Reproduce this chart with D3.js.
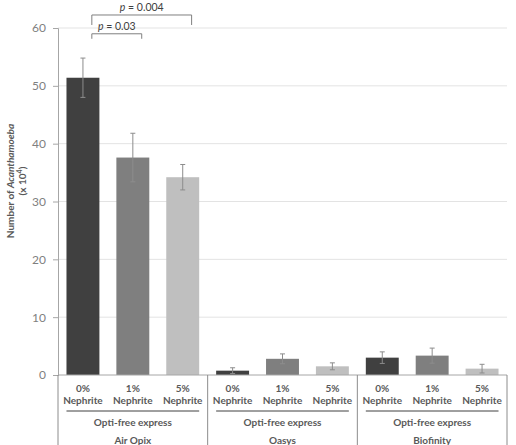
<!DOCTYPE html>
<html>
<head>
<meta charset="utf-8">
<script src="https://cdn.jsdelivr.net/npm/d3@7"></script>
<style>
  body { margin: 0; background: #fff; }
  text { font-family: Lato, "Open Sans", sans-serif; }
</style>
</head>
<body>
<script>
const lenses = ["Air Opix", "Oasys", "Biofinity"];
const doses = ["0%", "1%", "5%"];
const doseColors = ["#404040", "#7f7f7f", "#bfbfbf"];
const means = [
  [51.4, 37.6, 34.2],
  [0.75, 2.8, 1.5],
  [3.0, 3.35, 1.1]
];
const errs = [
  [3.4, 4.2, 2.2],
  [0.5, 0.85, 0.6],
  [1.0, 1.3, 0.75]
];
const yTicks = [0, 10, 20, 30, 40, 50, 60];
const pvals = [
  { from: 0, to: 1, label: "0.03", level: 59 },
  { from: 0, to: 2, label: "0.004", level: 62.25 }
];

const W = 516, H = 445;
const margin = { left: 58, right: 9, top: 28, bottom: 70 };
const innerW = W - margin.left - margin.right;
const innerH = H - margin.top - margin.bottom;

const svg = d3.select("body").append("svg")
  .attr("width", W)
  .attr("height", H);

const g = svg.append("g")
  .attr("transform", `translate(${margin.left}, ${margin.top})`);

const x0 = d3.scaleBand().domain(lenses).range([0, innerW]);
const x1 = d3.scaleBand().domain(doses).range([0, x0.bandwidth()]).paddingInner(0.34).paddingOuter(0.17);
const y = d3.scaleLinear().domain([0, 60]).range([innerH, 0]);

// gridlines
g.selectAll(".grid")
  .data(yTicks.filter(d => d > 0))
  .join("line")
  .attr("x1", 0).attr("x2", innerW)
  .attr("y1", d => y(d)).attr("y2", d => y(d))
  .attr("stroke", "#e3e3e3")
  .attr("stroke-width", 1);

// y axis
const yAxis = g.append("g")
  .call(d3.axisLeft(y).tickValues(yTicks).tickSize(5).tickPadding(7));
yAxis.select(".domain").attr("stroke", "#a6a6a6");
yAxis.selectAll(".tick line").attr("stroke", "#a6a6a6");
yAxis.selectAll(".tick text")
  .attr("fill", "#7f7f7f")
  .style("font-size", "12px");

// bars
const rows = [];
lenses.forEach((lens, i) => {
  doses.forEach((dose, j) => {
    rows.push({ lens, dose, j, v: means[i][j], e: errs[i][j] });
  });
});

const groups = g.selectAll(".grp")
  .data(lenses)
  .join("g")
  .attr("transform", d => `translate(${x0(d)}, 0)`);

g.selectAll(".bar")
  .data(rows)
  .join("rect")
  .attr("x", d => x0(d.lens) + x1(d.dose))
  .attr("y", d => y(d.v))
  .attr("width", x1.bandwidth())
  .attr("height", d => innerH - y(d.v))
  .attr("fill", d => doseColors[d.j]);

// error bars
const eb = g.selectAll(".err")
  .data(rows)
  .join("g")
  .attr("transform", d => `translate(${x0(d.lens) + x1(d.dose) + x1.bandwidth() / 2}, 0)`);
eb.append("line")
  .attr("y1", d => y(d.v + d.e)).attr("y2", d => y(Math.max(0, d.v - d.e)))
  .attr("stroke", "#8c8c8c").attr("stroke-width", 1);
eb.append("line")
  .attr("x1", -2.5).attr("x2", 2.5)
  .attr("y1", d => y(d.v + d.e)).attr("y2", d => y(d.v + d.e))
  .attr("stroke", "#8c8c8c").attr("stroke-width", 1);
eb.append("line")
  .attr("x1", -2.5).attr("x2", 2.5)
  .attr("y1", d => y(Math.max(0, d.v - d.e))).attr("y2", d => y(Math.max(0, d.v - d.e)))
  .attr("stroke", "#8c8c8c").attr("stroke-width", 1);

// baseline
g.append("line")
  .attr("x1", 0).attr("x2", innerW)
  .attr("y1", innerH).attr("y2", innerH)
  .attr("stroke", "#a6a6a6");

// category separators
g.selectAll(".sep")
  .data(lenses.map(d => x0(d)).concat([innerW]))
  .join("line")
  .attr("x1", d => d).attr("x2", d => d)
  .attr("y1", innerH).attr("y2", H - margin.top)
  .attr("stroke", "#8c8c8c");

// x labels
groups.each(function(lens) {
  const gg = d3.select(this);
  doses.forEach(dose => {
    const cx = x1(dose) + x1.bandwidth() / 2;
    gg.append("text")
      .attr("x", cx).attr("y", innerH + 17)
      .attr("text-anchor", "middle")
      .attr("fill", "#595959")
      .style("font-size", "10px").style("font-weight", "bold")
      .text(dose);
    gg.append("text")
      .attr("x", cx).attr("y", innerH + 29)
      .attr("text-anchor", "middle")
      .attr("fill", "#595959")
      .style("font-size", "10px").style("font-weight", "bold")
      .text("Nephrite");
  });
  gg.append("line")
    .attr("x1", x1(doses[0])).attr("x2", x1(doses[2]) + x1.bandwidth())
    .attr("y1", innerH + 36).attr("y2", innerH + 36)
    .attr("stroke", "#404040");
  gg.append("text")
    .attr("x", x0.bandwidth() / 2).attr("y", innerH + 51)
    .attr("text-anchor", "middle")
    .attr("fill", "#595959")
    .style("font-size", "10px").style("font-weight", "bold")
    .text("Opti-free express");
  gg.append("text")
    .attr("x", x0.bandwidth() / 2).attr("y", innerH + 69)
    .attr("text-anchor", "middle")
    .attr("fill", "#595959")
    .style("font-size", "10px").style("font-weight", "bold")
    .text(lens);
});

// p-value brackets
const bx = j => x0(lenses[0]) + x1(doses[j]) + x1.bandwidth() * 0.77;
pvals.forEach((p, k) => {
  const yTop = y(p.level);
  const drop = k === 0 ? 5 : 10;
  g.append("path")
    .attr("d", `M${bx(p.from)},${yTop + drop}V${yTop}H${bx(p.to)}V${yTop + drop}`)
    .attr("fill", "none")
    .attr("stroke", "#7f7f7f");
  const t = g.append("text")
    .attr("x", (bx(p.from) + bx(p.to)) / 2)
    .attr("y", yTop - 4)
    .attr("text-anchor", "middle")
    .attr("fill", "#404040")
    .style("font-size", "10.5px");
  t.append("tspan").style("font-style", "italic").text("p");
  t.append("tspan").text(" = " + p.label);
});

// y axis title
const titleY = 181;
const yt = svg.append("text")
  .attr("transform", `translate(14, ${titleY}) rotate(-90)`)
  .attr("text-anchor", "middle")
  .attr("fill", "#595959")
  .style("font-size", "10px").style("font-weight", "bold");
yt.append("tspan").text("Number of ");
yt.append("tspan").style("font-style", "italic").text("Acanthamoeba");
const yt2 = svg.append("text")
  .attr("transform", `translate(26, ${titleY}) rotate(-90)`)
  .attr("text-anchor", "middle")
  .attr("fill", "#595959")
  .style("font-size", "10px").style("font-weight", "bold");
yt2.append("tspan").text("(x 10");
yt2.append("tspan").attr("dy", -4).style("font-size", "7px").text("4");
yt2.append("tspan").attr("dy", 4).text(")");
</script>
</body>
</html>
